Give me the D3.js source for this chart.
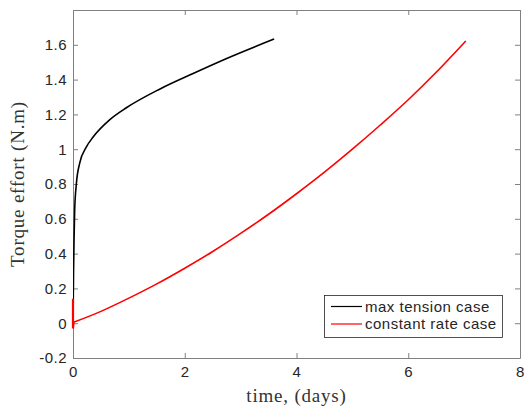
<html>
<head>
<meta charset="utf-8">
<script src="https://d3js.org/d3.v7.min.js"></script>
<style>
body { margin: 0; background: #fff; }
text { font-family: "Liberation Sans", Arial, sans-serif; fill: #262626; }
.lbl { font-family: "Liberation Serif", "DejaVu Serif", serif; font-size: 19px; letter-spacing: 0.8px; fill: #333; }
</style>
</head>
<body>
<div id="plot"></div>
<script>
var width = 525, height = 409;
var margin = { left: 73, right: 5, top: 10, bottom: 51 };

// max tension case
var blackT = [0, 0.005, 0.01, 0.02, 0.03, 0.06, 0.12, 0.24, 0.36, 0.66, 0.955, 1.55, 2.15, 2.74, 3.6];
var blackV = [0, 0.15, 0.3, 0.5, 0.65, 0.80, 0.92, 1.013, 1.07, 1.17, 1.238, 1.345, 1.435, 1.52, 1.633];

// constant rate case (start-up spike then smooth rise)
var spikeT = [0, 0, 0.01];
var spikeV = [0.14, -0.03, 0.005];
var redT = [0.01, 0.5, 1, 1.5, 2, 2.5, 3, 3.5, 4, 4.5, 5, 5.5, 6, 6.5, 7.03];
var redV = [0.005, 0.068, 0.144, 0.226, 0.316, 0.412, 0.516, 0.626, 0.744, 0.868, 1.0, 1.139, 1.284, 1.442, 1.622];

var xTicks = [0, 2, 4, 6, 8];
var yTicks = [-0.2, 0, 0.2, 0.4, 0.6, 0.8, 1, 1.2, 1.4, 1.6];
var legendLabels = ["max tension case", "constant rate case"];
var colors = ["#000000", "#ff0000"];

var svg = d3.select("#plot").append("svg")
  .attr("width", width).attr("height", height);

var x = d3.scaleLinear().domain([0, 8]).range([margin.left, width - margin.right]);
var y = d3.scaleLinear().domain([-0.2, 1.8]).range([height - margin.bottom, margin.top]);

function zip(a, b) { return a.map(function (d, i) { return [d, b[i]]; }); }

svg.append("clipPath").attr("id", "clip").append("rect")
  .attr("x", x(0)).attr("y", y(1.8)).attr("width", x(8) - x(0)).attr("height", y(-0.2) - y(1.8));

// axes with inward ticks on all four sides
var axisColor = "#808080";
function styleAxis(g) {
  g.select(".domain").attr("stroke", axisColor);
  g.selectAll(".tick line").attr("stroke", axisColor);
  g.selectAll(".tick text").attr("fill", "#262626").style("font-size", "15px")
    .style("letter-spacing", "0.5px")
    .style("font-family", "Liberation Sans, Arial, sans-serif");
}
function fmt(d) { return String(+d.toFixed(1)); } // plain hyphen minus like the original

svg.append("g").attr("transform", "translate(0," + y(-0.2) + ")")
  .call(d3.axisBottom(x).tickValues(xTicks).tickSize(-5).tickPadding(8).tickSizeOuter(0).tickFormat(fmt))
  .call(styleAxis);
svg.append("g").attr("transform", "translate(0," + y(1.8) + ")")
  .call(d3.axisTop(x).tickValues(xTicks).tickSize(-5).tickFormat("").tickSizeOuter(0))
  .call(styleAxis);
svg.append("g").attr("transform", "translate(" + x(0) + ",0)")
  .call(d3.axisLeft(y).tickValues(yTicks).tickSize(-5).tickPadding(6).tickSizeOuter(0).tickFormat(fmt))
  .call(styleAxis);
svg.append("g").attr("transform", "translate(" + x(8) + ",0)")
  .call(d3.axisRight(y).tickValues(yTicks).tickSize(-5).tickFormat("").tickSizeOuter(0))
  .call(styleAxis);

var line = d3.line().x(function (d) { return x(d[0]); }).y(function (d) { return y(d[1]); });

svg.append("path").datum(zip(blackT, blackV))
  .attr("d", line.curve(d3.curveMonotoneX))
  .attr("fill", "none").attr("stroke", colors[0]).attr("stroke-width", 1.6)
  .attr("clip-path", "url(#clip)");

svg.append("path")
  .attr("d", line.curve(d3.curveLinear)(zip(spikeT, spikeV)))
  .attr("fill", "none").attr("stroke", colors[1]).attr("stroke-width", 2.2);

svg.append("path").datum(zip(redT, redV))
  .attr("d", line.curve(d3.curveMonotoneX))
  .attr("fill", "none").attr("stroke", colors[1]).attr("stroke-width", 1.6);

// axis labels
svg.append("text").attr("class", "lbl")
  .attr("x", (x(0) + x(8)) / 2).attr("y", 402)
  .attr("text-anchor", "middle").text("time, (days)");
svg.append("text").attr("class", "lbl")
  .attr("transform", "translate(24," + (y(-0.2) + y(1.8)) / 2 + ") rotate(-90)")
  .attr("text-anchor", "middle").text("Torque effort (N.m)");

// legend
var lg = svg.append("g");
lg.append("rect").attr("x", 324.5).attr("y", 295.5).attr("width", 178).attr("height", 42)
  .attr("fill", "#fff").attr("stroke", "#262626").attr("stroke-width", 0.8);
legendLabels.forEach(function (s, i) {
  var yy = 306.5 + i * 17.5;
  lg.append("line").attr("x1", 331).attr("x2", 362).attr("y1", yy).attr("y2", yy)
    .attr("stroke", colors[i]).attr("stroke-width", 1.2);
  lg.append("text").attr("x", 365).attr("y", yy).attr("dy", "0.35em")
    .style("font-size", "15px").style("letter-spacing", "0.5px").attr("fill", "#000").text(s);
});
</script>
</body>
</html>
